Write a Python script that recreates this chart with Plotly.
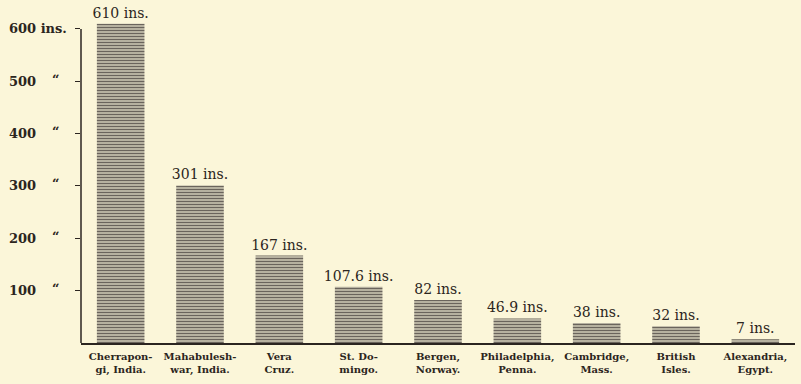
import plotly.graph_objects as go

# Annual rainfall at selected stations, in inches
stations = [
    "Cherrapon-<br>gi, India.",
    "Mahabulesh-<br>war, India.",
    "Vera<br>Cruz.",
    "St. Do-<br>mingo.",
    "Bergen,<br>Norway.",
    "Philadelphia,<br>Penna.",
    "Cambridge,<br>Mass.",
    "British<br>Isles.",
    "Alexandria,<br>Egypt.",
]
rainfall = [610, 301, 167, 107.6, 82, 46.9, 38, 32, 7]

# Scale marks on the left
tick_values = [100, 200, 300, 400, 500, 600]
tick_numbers = ["100", "200", "300", "400", "500", "600 ins."]
tick_ditto = ["\u201c", "\u201c", "\u201c", "\u201c", "\u201c", ""]

paper = "#FBF6D9"
ink = "#2b2520"
serif = "DejaVu Serif"

fig = go.Figure()
fig.add_trace(go.Bar(
    x=stations,
    y=rainfall,
    width=0.6,
    text=[f"{v:g} ins." for v in rainfall],
    textposition="outside",
    constraintext="none",
    textfont=dict(family=serif, size=14, color=ink),
    cliponaxis=False,
    marker=dict(
        color=paper,
        line=dict(width=0),
        pattern=dict(shape="-", size=3, solidity=0.6,
                      fgcolor="#6a645c", bgcolor="#e9e4cc", fillmode="replace"),
    ),
    hoverinfo="skip",
))

# Vertical scale line from zero up to the 600 mark
fig.add_shape(type="line", xref="paper", yref="y",
              x0=0, x1=0, y0=0, y1=600,
              line=dict(color=ink, width=1.5))

# Left-hand scale labels: numbers and ditto marks in two columns
for v, num, dit in zip(tick_values, tick_numbers, tick_ditto):
    fig.add_annotation(xref="paper", yref="y", x=0, y=v, text=f"<b>{num}</b>",
                       xanchor="left", yanchor="middle", xshift=-74, showarrow=False,
                       font=dict(family=serif, size=13, color=ink))
    if dit:
        fig.add_annotation(xref="paper", yref="y", x=0, y=v, text=f"<b>{dit}</b>",
                           xanchor="left", yanchor="middle", xshift=-31, yshift=2,
                           showarrow=False,
                           font=dict(family=serif, size=13, color=ink))

fig.update_layout(
    width=801, height=384,
    margin=dict(l=81, r=6, t=8, b=41),
    paper_bgcolor=paper, plot_bgcolor=paper,
    showlegend=False,
    bargap=0.4,
    xaxis=dict(
        showline=True, linecolor=ink, linewidth=2,
        showgrid=False, zeroline=False, ticks="",
        tickfont=dict(family=serif, size=10, color=ink, weight="bold"),
        ticklabelstandoff=3,
        range=[-0.5, 8.5],
    ),
    yaxis=dict(
        range=[0, 640],
        showline=False, showgrid=False, zeroline=False,
        tickmode="array", tickvals=tick_values,
        ticks="outside", ticklen=5, tickcolor=ink, tickwidth=1,
        showticklabels=False,
    ),
)

fig.write_html("out.html")
